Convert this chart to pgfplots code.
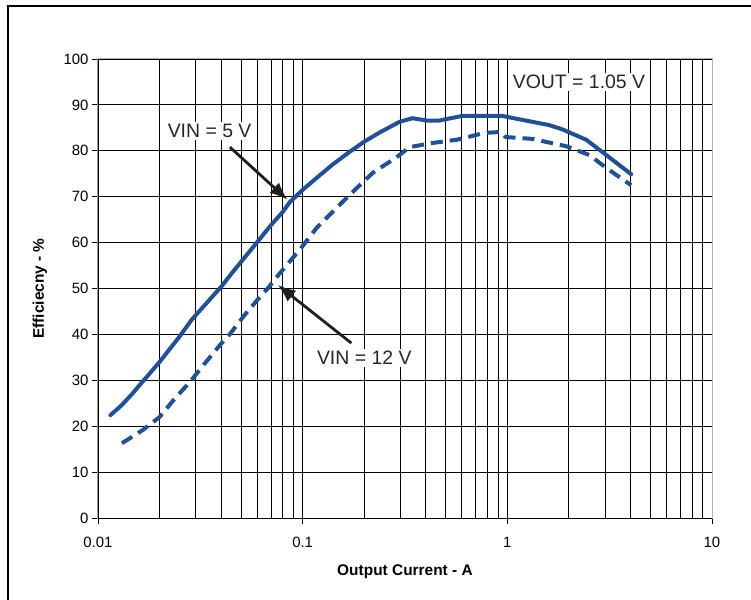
\documentclass[border=0pt]{standalone}
\usepackage{pgfplots}
\pgfplotsset{compat=1.18}
\usepackage{fontspec}
\setmainfont{Liberation Sans}
\usetikzlibrary{arrows.meta}

\definecolor{curveblue}{RGB}{32,80,150}

% Efficiency, VIN = 5 V
\pgfplotstableread{
I eff
0.0115 22.4
0.0130 24.5
0.0148 27.2
0.0160 29.0
0.0169 30.2
0.0200 34.0
0.0250 39.5
0.0287 43.2
0.0350 47.5
0.0402 50.5
0.0450 53.3
0.0500 55.8
0.0597 60.0
0.0700 63.8
0.0800 66.7
0.0865 68.8
0.1000 71.5
0.1200 74.5
0.1400 77.0
0.1700 79.8
0.2000 82.0
0.2380 84.0
0.2970 86.3
0.3440 87.1
0.4030 86.6
0.4660 86.6
0.6020 87.6
0.9460 87.6
1.0200 87.3
1.6000 85.6
1.8500 84.7
2.4300 82.4
3.0400 79.1
3.5200 76.9
4.0300 74.9
}\vinfive

% Efficiency, VIN = 12 V
\pgfplotstableread{
I eff
0.0131 16.3
0.0166 19.2
0.0200 22.0
0.0238 26.1
0.0281 29.6
0.0330 33.5
0.0400 38.0
0.0440 40.0
0.0520 44.2
0.0630 48.6
0.0675 50.0
0.0747 52.5
0.0990 59.0
0.1170 63.2
0.1430 67.1
0.1800 71.5
0.2200 75.2
0.2880 78.6
0.3330 80.8
0.4300 81.7
0.5640 82.4
0.7730 83.9
0.9300 84.1
0.9800 83.0
1.3200 82.6
1.9400 81.0
2.5100 79.1
3.0400 76.3
3.5200 74.3
4.0300 72.5
}\vintwelve

\begin{document}
\begin{tikzpicture}
\useasboundingbox (-98bp,-82bp) rectangle (653bp,518bp);
\begin{axis}[
  scale only axis,
  width=614bp, height=459bp,
  xmode=log, log basis x=10,
  xmin=0.01, xmax=10, ymin=0, ymax=100,
  xtick={0.01,0.1,1,10},
  xticklabels={0.01,0.1,1,10},
  minor xtick={0.02,0.03,0.04,0.05,0.06,0.07,0.08,0.09,
               0.2,0.3,0.4,0.5,0.6,0.7,0.8,0.9,
               2,3,4,5,6,7,8,9},
  ytick={0,10,...,100},
  grid=both,
  major grid style={black, line width=0.9bp},
  minor grid style={black, line width=0.9bp},
  tick align=outside,
  major tick length=6bp, minor tick length=0pt,
  xtick pos=bottom, ytick pos=left,
  tick style={black, line width=0.9bp},
  axis line style={draw=gray!60, line width=1bp},
  /pgf/number format/assume math mode=true,
  ticklabel style={font=\fontsize{15}{17}\selectfont},
  xticklabel style={yshift=-10bp},
  xlabel={Output Current - A},
  ylabel={Efficiecny - \%},
  label style={font=\fontsize{15.5}{18}\selectfont\bfseries},
  xlabel style={at={(rel axis cs:0.5,0)}, anchor=center, yshift=-54bp},
  ylabel style={at={(rel axis cs:0,0.5)}, anchor=center, yshift=58bp},
]
\addplot[curveblue, line width=4bp, line join=round, line cap=round]
  table[x=I, y=eff] {\vinfive};
\addplot[curveblue, line width=4bp, line join=round,
  dash pattern=on 12bp off 7bp]
  table[x=I, y=eff] {\vintwelve};

% left and bottom axis lines drawn in black
\draw[black, line width=1bp] (rel axis cs:0,1) -- (rel axis cs:0,0) -- (rel axis cs:1,0);

% annotations
\draw[-{Latex[length=18bp,width=14bp]}, line width=2.8bp, black!88]
  (axis cs:0.0441,80.8) -- (axis cs:0.0845,69.3);
\draw[-{Latex[length=18bp,width=14bp]}, line width=2.8bp, black!88]
  (axis cs:0.173,38.1) -- (axis cs:0.0755,50.8);
\node[fill=white, inner sep=2bp, text=black!85, font=\fontsize{19.5}{22}\selectfont]
  at (axis cs:0.0351,84.3) {VIN = 5 V};
\node[fill=white, inner sep=2bp, text=black!85, font=\fontsize{19.5}{22}\selectfont]
  at (axis cs:0.2,34.9) {VIN = 12 V};
\node[fill=white, inner sep=2bp, text=black!85, font=\fontsize{19.5}{22}\selectfont]
  at (axis cs:2.24,95) {VOUT = 1.05 V};
\end{axis}
% outer frame
\draw[black, line width=1.6bp] (-90bp,-82bp) -- (-90bp,512bp) -- (653bp,512bp);
\end{tikzpicture}
\end{document}
